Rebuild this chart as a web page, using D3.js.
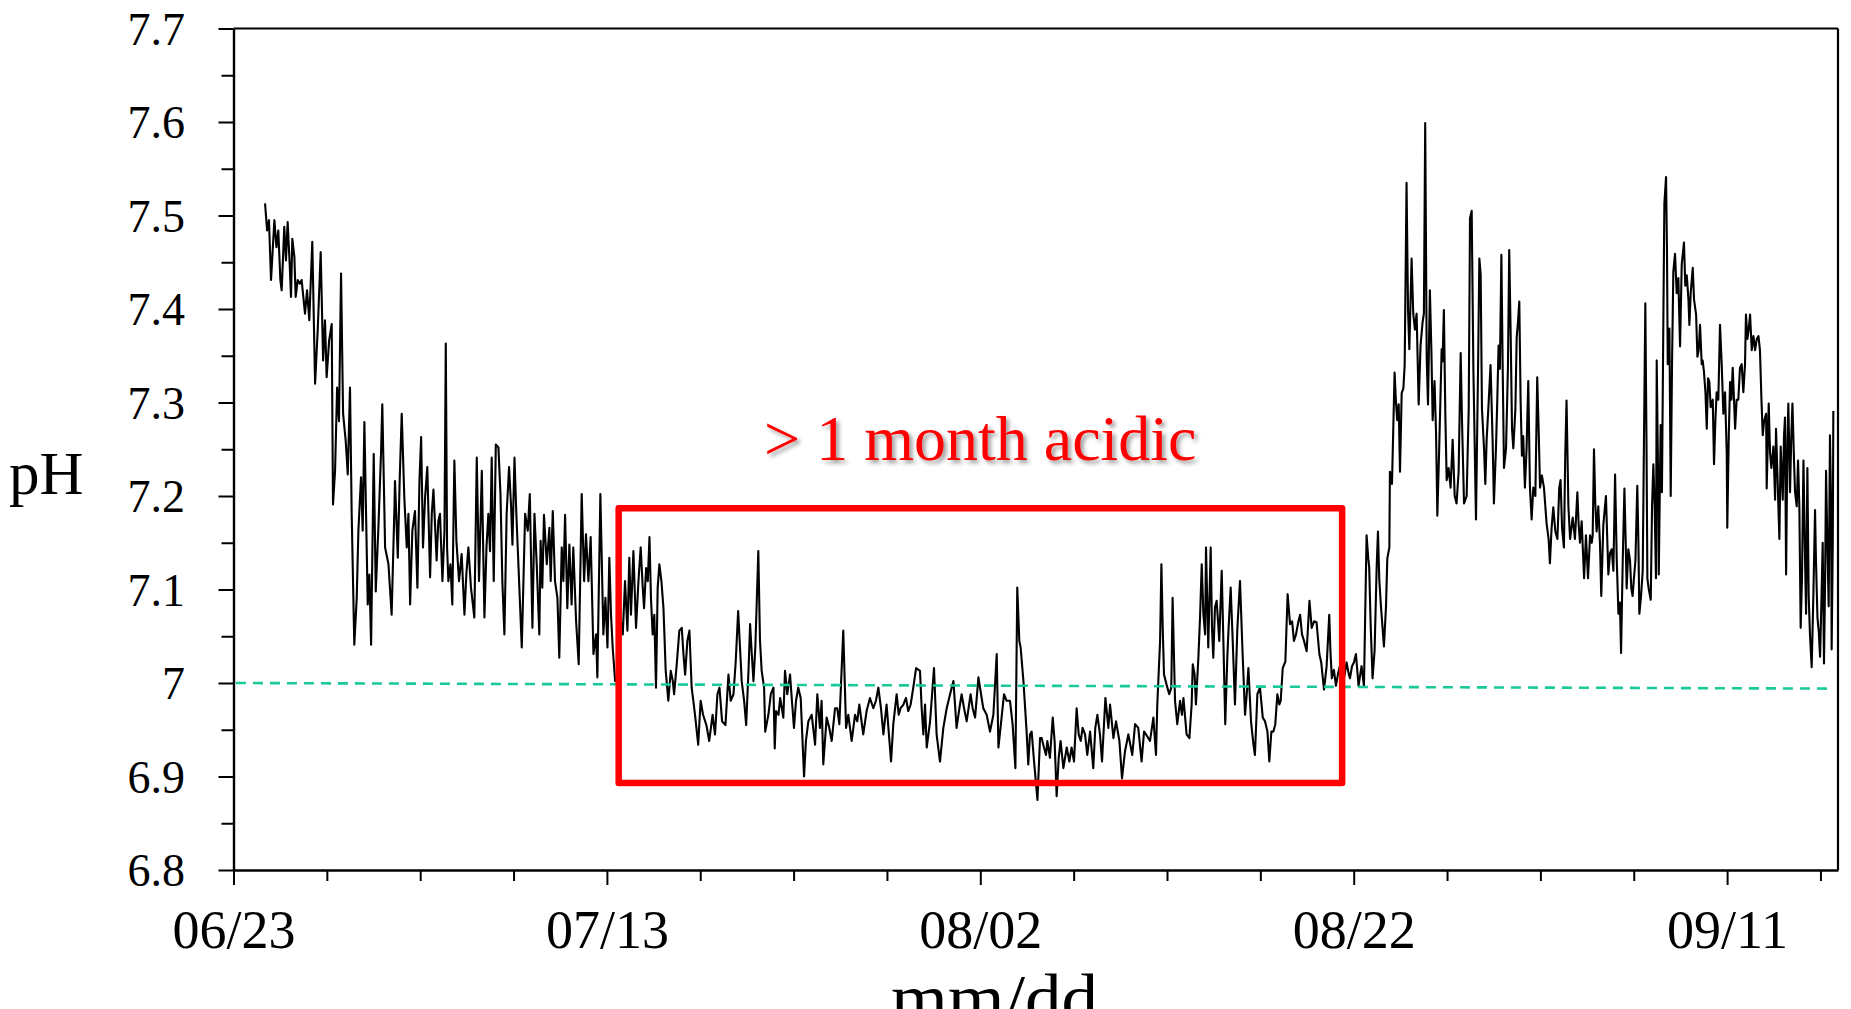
<!DOCTYPE html>
<html>
<head>
<meta charset="utf-8">
<title>pH record</title>
<script src="https://cdn.jsdelivr.net/npm/d3@7"></script>
<style>
  html, body { margin: 0; padding: 0; background: #ffffff; }
  svg { display: block; }
</style>
</head>
<body>
<svg id="chart" width="1851" height="1009"></svg>
<script>
// Logger readings: [days since 06/23 00:00, pH]
const phJune = [
  [1.69,7.513],[1.80,7.484],[1.90,7.495],[2.01,7.431],[2.19,7.495],[2.30,7.466],[2.40,7.484],[2.51,7.431],
  [2.58,7.420],[2.72,7.488],[2.81,7.452],[2.90,7.493],[3.01,7.448],[3.08,7.413],[3.15,7.475],[3.26,7.456],
  [3.33,7.413],[3.44,7.431],[3.55,7.427],[3.65,7.431],[3.74,7.413],[3.83,7.395],[3.94,7.420],[4.06,7.388],
  [4.22,7.472],[4.37,7.320],[4.51,7.377],[4.67,7.461],[4.80,7.345],[4.90,7.388],[4.99,7.327],[5.12,7.366],
  [5.26,7.384],[5.33,7.191],[5.44,7.227],[5.55,7.316],[5.65,7.280],[5.76,7.438],[5.87,7.288],[6.01,7.259],
  [6.12,7.223],[6.24,7.316],[6.33,7.181],[6.47,7.041],[6.60,7.091],[6.69,7.163],[6.83,7.220],[6.92,7.163],
  [7.01,7.279],[7.10,7.181],[7.19,7.084],[7.28,7.116],[7.37,7.041],[7.51,7.245],[7.62,7.098],[7.76,7.166],
  [7.90,7.245],[7.97,7.298]
];

const phJuly = [
  [8.12,7.145],[8.30,7.127],[8.47,7.073],[8.62,7.188],[8.65,7.216],[8.80,7.134],[8.90,7.216],[9.01,7.288],
  [9.15,7.198],[9.28,7.145],[9.37,7.181],[9.46,7.084],[9.58,7.163],[9.72,7.184],[9.85,7.102],[9.96,7.216],
  [10.05,7.263],[10.15,7.145],[10.26,7.198],[10.38,7.231],[10.53,7.113],[10.62,7.181],[10.71,7.207],[10.88,7.131],
  [10.97,7.173],[11.06,7.181],[11.19,7.109],[11.30,7.163],[11.37,7.363],[11.44,7.145],[11.51,7.109],[11.62,7.127],
  [11.72,7.084],[11.83,7.238],[11.94,7.152],[12.08,7.109],[12.22,7.138],[12.37,7.073],[12.47,7.116],[12.58,7.145],
  [12.72,7.102],[12.90,7.070],[13.03,7.241],[13.15,7.109],[13.30,7.227],[13.44,7.070],[13.55,7.145],[13.65,7.181],
  [13.74,7.141],[13.83,7.241],[13.94,7.109],[14.05,7.255],[14.19,7.252],[14.30,7.202],[14.40,7.109],[14.51,7.052],
  [14.63,7.181],[14.76,7.231],[14.87,7.188],[14.94,7.148],[15.05,7.241],[15.15,7.181],[15.26,7.127],[15.44,7.038],
  [15.53,7.109],[15.62,7.181],[15.76,7.163],[15.87,7.202],[16.01,7.059],[16.12,7.181],[16.24,7.127],[16.38,7.052],
  [16.45,7.152],[16.54,7.102],[16.63,7.180],[16.78,7.127],[16.92,7.166],[16.99,7.109],[17.10,7.184],[17.22,7.109],
  [17.35,7.091],[17.45,7.027],[17.58,7.145],[17.67,7.109],[17.76,7.180],[17.88,7.080],[17.99,7.148],[18.11,7.084],
  [18.20,7.145],[18.35,7.066],[18.49,7.020],[18.65,7.202],[18.78,7.109],[18.88,7.159],[19.01,7.109],[19.13,7.156],
  [19.28,7.031],[19.42,7.052],[19.49,7.006],[19.65,7.202],[19.81,7.052],[19.92,7.091],[20.03,7.038],[20.13,7.134],
  [20.22,7.073],[20.31,7.038],[20.44,7.002],[20.56,7.009],[20.70,7.073],[20.85,7.052],[20.97,7.109],[21.10,7.056],
  [21.20,7.134],[21.29,7.073],[21.42,7.141],[21.56,7.059],[21.69,7.109],[21.81,7.145],[21.92,7.102],[21.99,7.080],
  [22.10,7.123],[22.19,7.109],[22.28,7.156],[22.36,7.091],[22.45,7.052],[22.54,7.073],[22.63,6.995],[22.72,7.102],
  [22.81,7.127],[22.92,7.109],[23.03,7.080],[23.15,7.013],[23.29,6.981],[23.42,7.013],[23.53,7.002],[23.60,6.988],
  [23.74,7.020],[23.88,7.056],[24.01,7.059],[24.10,7.031],[24.19,7.009],[24.31,7.045],[24.42,7.056],[24.54,6.995],
  [24.63,6.981],[24.72,6.966],[24.89,6.934],[25.02,6.981],[25.15,6.966],[25.33,6.955],[25.48,6.938],[25.66,6.966],
  [25.79,6.945],[25.92,6.988],[26.03,6.995],[26.17,6.959],[26.35,6.955],[26.51,7.009],[26.63,6.981],[26.78,6.988],
  [26.90,7.023],[27.03,7.077],[27.13,7.038],[27.22,7.002],[27.35,6.981],[27.46,6.955],[27.59,7.016],[27.67,7.063],
  [27.76,7.031],[27.85,7.002],[27.95,7.038],[28.11,7.141],[28.20,7.045],[28.29,7.013],[28.42,6.995],[28.48,6.948],
  [28.65,6.966],[28.78,6.988],[28.92,6.995],[28.99,6.930],[29.06,6.970],[29.19,6.966],[29.28,6.984],[29.45,6.963],
  [29.54,7.013],[29.66,6.988],[29.81,7.009],[29.91,6.981],[30.02,6.952],[30.13,6.981],[30.25,6.995],[30.38,6.984],
  [30.56,6.900],[30.66,6.938],[30.79,6.959],[30.97,6.966],[31.15,6.934],[31.27,6.988],[31.41,6.952],[31.50,6.981],
  [31.59,6.913],[31.77,6.963],[31.91,6.952],[32.04,6.938],[32.22,6.973],[32.34,6.973],[32.45,6.956],[32.66,7.056],
  [32.81,6.952],[32.93,6.966],[33.11,6.938],[33.29,6.966],[33.41,6.959],[33.52,6.977],[33.73,6.945],[33.91,6.970],
  [34.09,6.984],[34.27,6.973],[34.41,6.981],[34.54,6.995],[34.68,6.973],[34.81,6.945],[34.98,6.977],[35.22,6.916],
  [35.34,6.956],[35.52,6.988],[35.63,6.966],[35.73,6.973],[35.88,6.977],[36.02,6.984],[36.14,6.970],[36.27,6.977],
  [36.41,6.995],[36.56,7.016],[36.77,7.013],[36.86,6.973],[36.95,6.945],[37.04,6.977],[37.13,6.931],[37.31,6.959],
  [37.52,7.016],[37.66,6.945],[37.84,6.916],[38.02,6.952],[38.20,6.973],[38.38,6.988],[38.56,7.002],[38.73,6.952],
  [38.88,6.973]
];

const phAugust = [
  [39.00,6.988],[39.13,6.973],[39.27,6.959],[39.48,6.988],[39.59,6.973],[39.72,6.963],[39.90,7.006],[40.04,6.988],
  [40.16,6.973],[40.34,6.966],[40.52,6.948],[40.70,6.966],[40.88,7.031],[40.97,6.931],[41.14,6.963],[41.27,6.988],
  [41.41,6.981],[41.59,6.981],[41.73,6.956],[41.88,6.909],[41.98,7.102],[42.09,7.045],[42.16,7.038],[42.31,7.002],
  [42.48,6.948],[42.57,6.913],[42.66,6.945],[42.75,6.948],[42.88,6.916],[43.06,6.875],[43.20,6.941],[43.29,6.941],
  [43.41,6.931],[43.52,6.923],[43.59,6.938],[43.73,6.920],[43.88,6.963],[43.98,6.938],[44.09,6.879],[44.20,6.920],
  [44.30,6.938],[44.45,6.909],[44.63,6.931],[44.77,6.916],[44.89,6.931],[45.02,6.916],[45.16,6.973],[45.27,6.945],
  [45.38,6.938],[45.48,6.952],[45.61,6.945],[45.73,6.923],[45.88,6.948],[46.05,6.909],[46.16,6.952],[46.27,6.966],
  [46.41,6.945],[46.52,6.916],[46.70,6.984],[46.86,6.952],[46.95,6.977],[47.13,6.941],[47.27,6.959],[47.45,6.938],
  [47.59,6.898],[47.75,6.927],[47.93,6.945],[48.14,6.923],[48.29,6.956],[48.46,6.952],[48.64,6.916],[48.77,6.948],
  [48.88,6.945],[49.09,6.938],[49.27,6.963],[49.41,6.923],[49.48,6.977],[49.63,7.045],[49.70,7.127],[49.77,7.059],
  [49.84,7.009],[49.98,6.998],[50.12,6.988],[50.23,6.995],[50.30,7.091],[50.43,6.981],[50.55,6.956],[50.70,6.981],
  [50.80,6.966],[50.88,6.984],[51.05,6.945],[51.20,6.941],[51.32,6.977],[51.38,7.020],[51.48,7.009],[51.55,6.977],
  [51.68,7.027],[51.77,7.070],[51.86,7.127],[51.95,7.073],[52.04,7.052],[52.09,7.145],[52.21,7.038],[52.34,7.145],
  [52.41,7.059],[52.48,7.027],[52.57,7.081],[52.66,7.088],[52.80,7.045],[52.93,7.120],[53.02,7.045],[53.12,6.956],
  [53.23,7.027],[53.30,7.059],[53.41,7.102],[53.52,7.045],[53.64,6.977],[53.77,7.059],[53.91,7.109],[54.05,7.031],
  [54.18,6.966],[54.27,6.988],[54.36,7.016],[54.50,6.959],[54.63,6.934],[54.71,6.923],[54.84,6.988],[54.98,6.995],
  [55.13,6.963],[55.25,6.959],[55.38,6.948],[55.48,6.916],[55.59,6.948],[55.70,6.948],[55.80,6.956],[55.91,6.988],
  [56.02,6.977],[56.09,6.981],[56.20,7.016],[56.34,7.023],[56.46,7.095],[56.59,7.063],[56.70,7.066],[56.80,7.045],
  [56.91,7.052],[57.04,7.066],[57.13,7.073],[57.23,7.052],[57.34,7.045],[57.48,7.034],[57.63,7.088],[57.75,7.059],
  [57.88,7.066],[58.01,7.065],[58.16,7.031],[58.26,7.022],[58.41,6.993],[58.55,7.018],[58.69,7.073],[58.76,7.031],
  [58.83,7.005],[58.94,7.014],[59.05,6.997],[59.16,7.010],[59.26,7.018],[59.37,6.997],[59.48,7.005],[59.62,7.022],
  [59.73,7.010],[59.80,7.005],[59.91,7.018],[60.01,7.022],[60.12,7.031],[60.19,7.014],[60.26,6.997],[60.42,7.018],
  [60.55,6.997],[60.69,7.158],[60.78,7.133],[60.83,7.124],[60.91,7.061],[61.01,7.005],[61.12,7.035],[61.23,7.124],
  [61.30,7.162],[61.37,7.111],[61.46,7.082],[61.62,7.039],[61.73,7.082],[61.80,7.133],[61.91,7.145],[61.94,7.226],
  [62.05,7.213],[62.12,7.272],[62.19,7.332],[62.26,7.302],[62.33,7.281],[62.41,7.298],[62.48,7.226],[62.57,7.310],
  [62.66,7.315],[62.73,7.340],[62.83,7.535],[62.91,7.399],[62.98,7.357],[63.07,7.429],[63.10,7.454],[63.19,7.395],
  [63.28,7.378],[63.37,7.395],[63.48,7.298],[63.58,7.361],[63.69,7.386],[63.76,7.395],[63.83,7.599],[63.91,7.348],
  [63.98,7.298],[64.08,7.420],[64.16,7.357],[64.23,7.281],[64.33,7.323],[64.41,7.268],[64.48,7.179],[64.58,7.251],
  [64.71,7.357],[64.76,7.344],[64.83,7.399],[64.91,7.285],[64.98,7.217],[65.08,7.230],[65.19,7.209],[65.30,7.260],
  [65.41,7.200],[65.51,7.192],[65.62,7.226],[65.73,7.353],[65.80,7.281],[65.91,7.192],[66.05,7.200],[66.16,7.293],
  [66.23,7.497],[66.32,7.505],[66.41,7.336],[66.55,7.175],[66.66,7.336],[66.73,7.454],[66.80,7.437],[66.87,7.293],
  [66.98,7.251],[67.05,7.213],[67.12,7.260],[67.21,7.293],[67.33,7.340],[67.44,7.260],[67.51,7.192],[67.62,7.251],
  [67.69,7.302],[67.76,7.361],[67.83,7.336],[67.91,7.458],[67.98,7.336],[68.05,7.230],[68.16,7.251],[68.26,7.336],
  [68.33,7.463],[68.41,7.370],[68.48,7.272],[68.55,7.251],[68.66,7.293],[68.73,7.370],[68.80,7.386],[68.87,7.408],
  [68.94,7.302],[69.01,7.243],[69.08,7.264],[69.17,7.209],[69.26,7.251],[69.35,7.323],[69.44,7.209],[69.53,7.175],
  [69.62,7.209],[69.73,7.200],[69.83,7.327],[69.91,7.268],[69.98,7.209]
];

const phSeptember = [
  [70.08,7.222],[70.19,7.209],[70.33,7.171],[70.44,7.154],[70.51,7.128],[70.60,7.166],[70.69,7.188],[70.80,7.162],
  [70.91,7.154],[71.01,7.209],[71.08,7.217],[71.16,7.166],[71.26,7.145],[71.33,7.243],[71.40,7.302],[71.50,7.189],
  [71.59,7.154],[71.73,7.177],[71.85,7.154],[71.98,7.204],[72.05,7.169],[72.12,7.150],[72.21,7.173],[72.34,7.112],
  [72.44,7.158],[72.55,7.112],[72.66,7.158],[72.75,7.150],[72.80,7.158],[72.87,7.250],[72.94,7.192],[73.01,7.162],
  [73.10,7.189],[73.19,7.150],[73.26,7.093],[73.37,7.169],[73.51,7.200],[73.64,7.116],[73.73,7.139],[73.82,7.143],
  [73.91,7.120],[74.00,7.223],[74.09,7.131],[74.18,7.074],[74.26,7.086],[74.32,7.032],[74.41,7.131],[74.50,7.208],
  [74.57,7.150],[74.62,7.101],[74.71,7.143],[74.80,7.131],[74.87,7.101],[74.94,7.093],[75.01,7.112],[75.09,7.131],
  [75.19,7.211],[75.25,7.150],[75.30,7.074],[75.39,7.093],[75.48,7.120],[75.55,7.265],[75.62,7.406],[75.68,7.265],
  [75.73,7.112],[75.80,7.101],[75.91,7.089],[75.98,7.189],[76.05,7.234],[76.12,7.189],[76.19,7.112],[76.23,7.345],
  [76.30,7.227],[76.34,7.116],[76.41,7.227],[76.44,7.276],[76.51,7.204],[76.59,7.398],[76.64,7.513],[76.73,7.541],
  [76.78,7.463],[76.82,7.341],[76.91,7.379],[76.98,7.200],[77.05,7.341],[77.12,7.440],[77.21,7.459],[77.30,7.417],
  [77.39,7.433],[77.48,7.360],[77.57,7.448],[77.69,7.471],[77.76,7.425],[77.84,7.436],[77.93,7.410],[77.98,7.383],
  [78.05,7.417],[78.16,7.444],[78.23,7.410],[78.34,7.394],[78.41,7.349],[78.48,7.356],[78.55,7.383],[78.64,7.341],
  [78.69,7.345],[78.76,7.333],[78.84,7.311],[78.91,7.272],[78.98,7.326],[79.05,7.322],[79.12,7.295],[79.23,7.303],
  [79.30,7.234],[79.37,7.280],[79.44,7.311],[79.53,7.303],[79.62,7.383],[79.71,7.341],[79.80,7.288],[79.89,7.311],
  [79.98,7.246],[80.01,7.166],[80.09,7.265],[80.16,7.322],[80.23,7.303],[80.30,7.337],[80.37,7.303],[80.43,7.272],
  [80.51,7.303],[80.60,7.303],[80.69,7.337],[80.78,7.341],[80.87,7.311],[80.96,7.341],[81.01,7.394],[81.09,7.368],
  [81.16,7.379],[81.23,7.394],[81.32,7.356],[81.41,7.371],[81.50,7.356],[81.59,7.368],[81.68,7.371],[81.76,7.356],
  [81.84,7.303],[81.91,7.265],[81.98,7.280],[82.09,7.288],[82.12,7.208],[82.23,7.299],[82.30,7.246],[82.37,7.230],
  [82.48,7.253],[82.57,7.196],[82.62,7.272],[82.69,7.227],[82.80,7.154],[82.87,7.253],[82.98,7.196],[83.05,7.265],
  [83.10,7.284],[83.16,7.116],[83.23,7.257],[83.28,7.299],[83.37,7.204],[83.44,7.265],[83.50,7.299],[83.59,7.234],
  [83.64,7.204],[83.73,7.189],[83.80,7.238],[83.87,7.189],[83.94,7.059],[84.01,7.112],[84.09,7.238],[84.16,7.150],
  [84.23,7.074],[84.30,7.230],[84.37,7.093],[84.44,7.051],[84.53,7.017],[84.62,7.093],[84.71,7.185],[84.76,7.131],
  [84.84,7.070],[84.91,7.055],[84.98,7.028],[85.05,7.086],[85.12,7.150],[85.19,7.021],[85.25,7.112],[85.30,7.227],
  [85.37,7.150],[85.44,7.082],[85.51,7.265],[85.57,7.189],[85.60,7.036],[85.66,7.150],[85.69,7.291]
];

// Axis ticks and labels
const yMajorTicks = [6.8, 6.9, 7.0, 7.1, 7.2, 7.3, 7.4, 7.5, 7.6, 7.7];
const yTickLabels = ["6.8", "6.9", "7", "7.1", "7.2", "7.3", "7.4", "7.5", "7.6", "7.7"];
const yMinorTicks = [6.85, 6.95, 7.05, 7.15, 7.25, 7.35, 7.45, 7.55, 7.65];
const xMajorDays = [0, 20, 40, 60, 80];
const xTickLabels = ["06/23", "07/13", "08/02", "08/22", "09/11"];
const xMinorDays = [5, 10, 15, 25, 30, 35, 45, 50, 55, 65, 70, 75, 85];

// Neutral pH reference (dashed) and the acidic period annotation
const neutralLine = [[0.13, 7.000], [85.5, 6.994]];
const acidicPeriod = { fromDay: 20.63, toDay: 59.38, low: 6.893, high: 7.187 };
const acidicNote = { text: "> 1 month acidic", day: 40.0, pH: 7.238 };

const xTitle = "mm/dd";
const yTitle = "pH";

// ---------------------------------------------------------------
const startDate = new Date(2015, 5, 23);
const toDate = d => new Date(startDate.getTime() + d * 864e5);

const svg = d3.select("#chart");
const serif = "'Liberation Serif', 'Times New Roman', Times, serif";

const plot = { left: 233.5, right: 1838, top: 28.5, bottom: 870 };

const x = d3.scaleTime()
  .domain([startDate, toDate(85.94)])
  .range([plot.left, plot.right]);

const y = d3.scaleLinear()
  .domain([6.8, 7.7])
  .range([plot.bottom, plot.top]);

const defs = svg.append("defs");
const shadow = defs.append("filter")
  .attr("id", "noteShadow")
  .attr("x", "-10%").attr("y", "-30%")
  .attr("width", "130%").attr("height", "170%");
shadow.append("feDropShadow")
  .attr("dx", 3).attr("dy", 3)
  .attr("stdDeviation", 2)
  .attr("flood-color", "#000")
  .attr("flood-opacity", 0.4);

// Y axis: minor ticks, then labelled major ticks
const yMinorAxis = svg.append("g")
  .attr("transform", `translate(${plot.left},0)`)
  .call(d3.axisLeft(y).tickValues(yMinorTicks).tickSize(12).tickSizeOuter(0).tickFormat(""));
yMinorAxis.select(".domain").remove();

const yAxis = svg.append("g")
  .attr("transform", `translate(${plot.left},0)`)
  .call(d3.axisLeft(y)
    .tickValues(yMajorTicks)
    .tickSize(15)
    .tickSizeOuter(0)
    .tickPadding(33.5)
    .tickFormat((d, i) => yTickLabels[i]));
yAxis.selectAll("text")
  .attr("dy", "0.34em")
  .style("font-family", serif)
  .style("font-size", "46px")
  .style("fill", "#000");

// X axis: minor ticks, then labelled major ticks
const xMinorAxis = svg.append("g")
  .attr("transform", `translate(0,${plot.bottom})`)
  .call(d3.axisBottom(x).tickValues(xMinorDays.map(toDate)).tickSize(11).tickSizeOuter(0).tickFormat(""));
xMinorAxis.select(".domain").remove();

const xAxis = svg.append("g")
  .attr("transform", `translate(0,${plot.bottom})`)
  .call(d3.axisBottom(x)
    .tickValues(xMajorDays.map(toDate))
    .tickSize(15)
    .tickSizeOuter(0)
    .tickFormat((d, i) => xTickLabels[i]));
xAxis.selectAll("text")
  .attr("y", 78)
  .attr("dy", null)
  .style("font-family", serif)
  .style("font-size", "54px")
  .style("fill", "#000");

svg.selectAll(".tick line").attr("stroke", "#000").attr("stroke-width", 2);
svg.selectAll(".domain").attr("stroke", "#000").attr("stroke-width", 2.4);

// Frame: top and right edges
svg.append("line")
  .attr("x1", plot.left).attr("x2", plot.right)
  .attr("y1", y(7.7)).attr("y2", y(7.7))
  .attr("stroke", "#000").attr("stroke-width", 2.2);
svg.append("line")
  .attr("x1", plot.right).attr("x2", plot.right)
  .attr("y1", y(7.7)).attr("y2", y(6.8))
  .attr("stroke", "#000").attr("stroke-width", 2.2);

// pH series
const readings = phJune.concat(phJuly, phAugust, phSeptember);
const line = d3.line()
  .x(d => x(toDate(d[0])))
  .y(d => y(d[1]));

svg.append("path")
  .datum(readings)
  .attr("d", line)
  .attr("fill", "none")
  .attr("stroke", "#000")
  .attr("stroke-width", 2.1)
  .attr("stroke-linejoin", "round");

// Neutral reference
svg.append("path")
  .datum(neutralLine)
  .attr("d", line)
  .attr("fill", "none")
  .attr("stroke", "#19c99a")
  .attr("stroke-width", 2.6)
  .attr("stroke-dasharray", "10 7");

// Acidic period box
svg.append("rect")
  .attr("x", x(toDate(acidicPeriod.fromDay)))
  .attr("y", y(acidicPeriod.high))
  .attr("width", x(toDate(acidicPeriod.toDay)) - x(toDate(acidicPeriod.fromDay)))
  .attr("height", y(acidicPeriod.low) - y(acidicPeriod.high))
  .attr("fill", "none")
  .attr("stroke", "#ff0000")
  .attr("stroke-width", 6.5)
  .attr("stroke-linejoin", "round");

svg.append("text")
  .attr("x", x(toDate(acidicNote.day)))
  .attr("y", y(acidicNote.pH))
  .attr("text-anchor", "middle")
  .attr("filter", "url(#noteShadow)")
  .style("font-family", serif)
  .style("font-size", "64px")
  .style("fill", "#ff0000")
  .text(acidicNote.text);

// Axis titles (the x title sits at the lower edge of the canvas)
svg.append("text")
  .attr("x", 9)
  .attr("y", 494)
  .style("font-family", serif)
  .style("font-size", "61px")
  .style("fill", "#000")
  .text(yTitle);

svg.append("text")
  .attr("x", 891)
  .attr("y", 1021)
  .attr("textLength", 207)
  .attr("lengthAdjust", "spacingAndGlyphs")
  .style("font-family", serif)
  .style("font-size", "68px")
  .style("fill", "#000")
  .text(xTitle);
</script>
</body>
</html>
